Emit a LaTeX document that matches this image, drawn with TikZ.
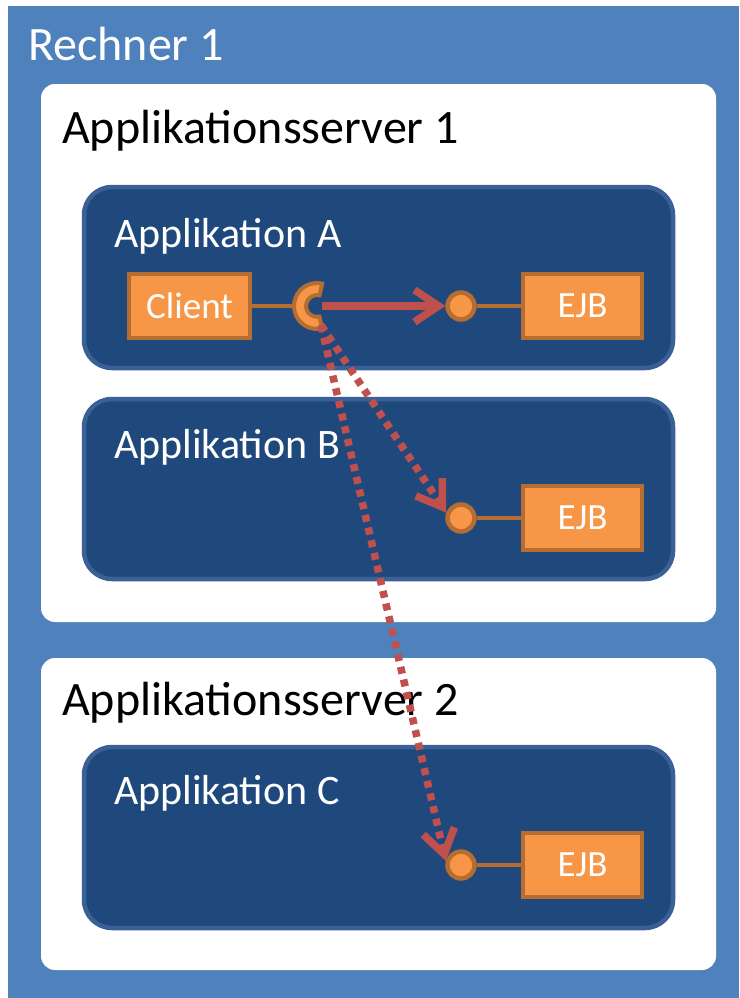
\documentclass[tikz,border=0pt]{standalone}
\usepackage{fontspec}
\setmainfont{Carlito}
\usetikzlibrary{arrows.meta}

\definecolor{rechnerblue}{HTML}{4F81BD}
\definecolor{appfill}{HTML}{1F497D}
\definecolor{appline}{HTML}{3A6096}
\definecolor{ejbfill}{HTML}{F79646}
\definecolor{ejbline}{HTML}{B66D31}
\definecolor{callred}{HTML}{C0504D}

\tikzset{
  srvbox/.style={fill=white, rounded corners=14pt},
  appbox/.style={fill=appfill, draw=appline, line width=4.5pt, rounded corners=28pt},
  bigtitle/.style={anchor=base west, inner sep=0pt, font=\fontsize{48pt}{56pt}\selectfont},
  apptitle/.style={anchor=base west, inner sep=0pt, text=white, font=\fontsize{42pt}{50pt}\selectfont},
  ejbbox/.style={fill=ejbfill, draw=ejbline, line width=4.5pt, text=white,
    minimum width=119pt, minimum height=64pt, inner sep=0pt, font=\fontsize{37pt}{44pt}\selectfont},
  port/.style={circle, fill=ejbfill, draw=ejbline, line width=4.5pt, minimum size=27pt, inner sep=0pt},
  wire/.style={draw=ejbline, line width=4pt},
  localcall/.style={draw=callred, line width=7.5pt, -{Straight Barb[length=24pt, width=32pt]}},
  remotecall/.style={localcall, dash pattern=on 7pt off 6pt},
}

\begin{document}
\begin{tikzpicture}[x=1pt, y=-1pt]
\useasboundingbox (0,0) rectangle (739,998);
\fill [white] (0,0) rectangle (739,998);

% Rechner
\fill [rechnerblue] (8,6) rectangle (739,998);
\node [bigtitle, text=white] (rechner) at (28,60) {Rechner 1};

% Applikationsserver
\fill [srvbox] (41,84) rectangle (716,622);
\fill [srvbox] (41,658) rectangle (716,970);
\node [bigtitle] (srv1) at (62,143) {Applikationsserver 1};
\node [bigtitle] (srv2) at (62,715) {Applikationsserver 2};

% Applikationen
\draw [appbox] (84,187) rectangle (673,368);
\draw [appbox] (84,399) rectangle (673,579);
\draw [appbox] (84,747) rectangle (673,928);
\node [apptitle] (appA) at (114,247) {Applikation A};
\node [apptitle] (appB) at (114,458) {Applikation B};
\node [apptitle] (appC) at (114,804) {Applikation C};

% Client und Socket
\coordinate (sock) at (317,306);
\coordinate (sockout) at (322,306);
\coordinate (sockdown) at (321,325);
\node [ejbbox, minimum width=121pt] (client) at (189.5,306) {Client};
\draw [wire] (client.east) -- (294,306);
\draw [ejbline, fill=ejbfill, line width=4pt]
(sock) ++(77:23) arc [start angle=77, end angle=283, radius=23]
-- ++(283:-12) arc [start angle=283, end angle=77, radius=11] -- cycle;

% EJBs
\node [port] (portA) at (461,306) {};
\node [port] (portB) at (461,518) {};
\node [port] (portC) at (461,865) {};
\node [ejbbox] (ejbA) at (582.5,306) {EJB};
\node [ejbbox] (ejbB) at (582.5,518) {EJB};
\node [ejbbox] (ejbC) at (582.5,865) {EJB};
\draw [wire] (portA) -- (ejbA);
\draw [wire] (portB) -- (ejbB);
\draw [wire] (portC) -- (ejbC);

% Aufrufe
\draw [localcall] (sockout) -- (portA.west);
\draw [remotecall] (sockdown) -- (portB.160);
\draw [remotecall] (sockdown) -- (portC.165);
\end{tikzpicture}
\end{document}
